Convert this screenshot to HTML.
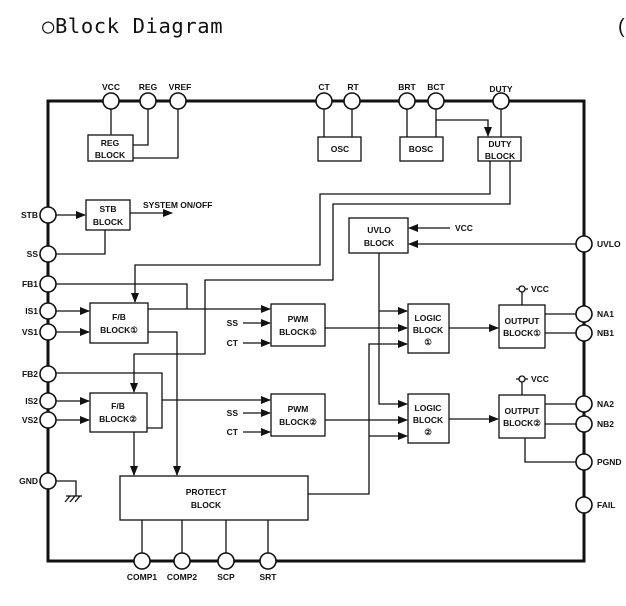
<!DOCTYPE html>
<html><head><meta charset="utf-8"><style>
body{margin:0;background:#fff;width:626px;height:606px;overflow:hidden}
svg{display:block}
text{font-family:"Liberation Sans",sans-serif;font-weight:bold;font-size:8.5px;fill:#111}
</style></head><body>
<svg width="626" height="606" viewBox="0 0 626 606">
<defs><marker id="a" markerWidth="10" markerHeight="8" refX="9" refY="4" orient="auto" markerUnits="userSpaceOnUse"><path d="M0,0L10,4L0,8z" fill="#111"/></marker></defs>
<text x="42" y="33" style="font-size:20.5px;font-weight:normal;font-family:'DejaVu Sans Mono','Liberation Mono',monospace;letter-spacing:0.6px">○Block Diagram</text>
<text x="618" y="33" style="font-size:20px;font-weight:normal">(</text>
<rect x="48" y="101" width="536" height="460" fill="none" stroke="#111" stroke-width="3"/>
<g fill="none" stroke="#111" stroke-width="1.3">
<path d="M111,101V135M148,101V145H133M178,101V158H133"/>
<path d="M324,101V137M352,101V137M407,101V137M436,101V137"/>
<path d="M436,120H488V136" marker-end="url(#a)"/>
<path d="M501,101V137"/>
<path d="M490,161V194H320V265H135V302" marker-end="url(#a)"/>
<path d="M510,161V204H333V280H205V354H134V392" marker-end="url(#a)"/>
<path d="M56,215H85" marker-end="url(#a)"/>
<path d="M130,213H172" marker-end="url(#a)"/>
<path d="M105,230V254H56"/>
<path d="M56,284H187V309"/>
<path d="M56,311H89" marker-end="url(#a)"/>
<path d="M56,332H89" marker-end="url(#a)"/>
<path d="M148,309H270" marker-end="url(#a)"/>
<path d="M148,332H177V475" marker-end="url(#a)"/>
<path d="M243,323H270" marker-end="url(#a)"/>
<path d="M243,343H270" marker-end="url(#a)"/>
<path d="M56,373H162V428H147"/>
<path d="M56,401H89" marker-end="url(#a)"/>
<path d="M56,420H89" marker-end="url(#a)"/>
<path d="M162,400H270" marker-end="url(#a)"/>
<path d="M243,413H270" marker-end="url(#a)"/>
<path d="M243,432H270" marker-end="url(#a)"/>
<path d="M134,432V475" marker-end="url(#a)"/>
<path d="M450,228H409" marker-end="url(#a)"/>
<path d="M576,244H409" marker-end="url(#a)"/>
<path d="M379,253V404H407" marker-end="url(#a)"/>
<path d="M379,311H407" marker-end="url(#a)"/>
<path d="M325,328H407" marker-end="url(#a)"/>
<path d="M325,420H407" marker-end="url(#a)"/>
<path d="M308,494H369V344H407" marker-end="url(#a)"/>
<path d="M369,436H407" marker-end="url(#a)"/>
<path d="M449,328H498" marker-end="url(#a)"/>
<path d="M449,419H498" marker-end="url(#a)"/>
<path d="M545,314H576M545,333H576M545,404H576M545,424H576M525,438V462H576"/>
<path d="M522,289V305M522,379V395M516,289H528M516,379H528"/>
<path d="M142,520V561M182,520V561M226,520V561M268,520V561"/>
<path d="M56,481H76V496M66,496H82M70,496L65,502M75,496L70,502M80,496L75,502"/>
</g>
<g fill="#fff" stroke="#111" stroke-width="1.3">
<circle cx="522" cy="289" r="3"/><circle cx="522" cy="379" r="3"/>
<rect x="88" y="135" width="45" height="26"/>
<rect x="318" y="137" width="43" height="24"/>
<rect x="400" y="137" width="43" height="24"/>
<rect x="478" y="137" width="43" height="24"/>
<rect x="86" y="200" width="44" height="30"/>
<rect x="349" y="218" width="59" height="35"/>
<rect x="90" y="303" width="58" height="40"/>
<rect x="271" y="304" width="54" height="42"/>
<rect x="408" y="304" width="41" height="49"/>
<rect x="499" y="305" width="46" height="43"/>
<rect x="90" y="393" width="57" height="39"/>
<rect x="271" y="394" width="54" height="42"/>
<rect x="408" y="394" width="41" height="49"/>
<rect x="499" y="395" width="46" height="43"/>
<rect x="120" y="476" width="188" height="44"/>
</g>
<g fill="#fff" stroke="#111" stroke-width="1.6">
<circle cx="111" cy="101" r="8"/><circle cx="148" cy="101" r="8"/><circle cx="178" cy="101" r="8"/>
<circle cx="324" cy="101" r="8"/><circle cx="352" cy="101" r="8"/><circle cx="407" cy="101" r="8"/><circle cx="436" cy="101" r="8"/><circle cx="501" cy="101" r="8"/>
<circle cx="48" cy="215" r="8"/><circle cx="48" cy="254" r="8"/><circle cx="48" cy="284" r="8"/><circle cx="48" cy="311" r="8"/><circle cx="48" cy="332" r="8"/>
<circle cx="48" cy="374" r="8"/><circle cx="48" cy="401" r="8"/><circle cx="48" cy="420" r="8"/><circle cx="48" cy="481" r="8"/>
<circle cx="584" cy="244" r="8"/><circle cx="584" cy="314" r="8"/><circle cx="584" cy="333" r="8"/><circle cx="584" cy="404" r="8"/><circle cx="584" cy="424" r="8"/><circle cx="584" cy="462" r="8"/><circle cx="584" cy="505" r="8"/>
<circle cx="142" cy="561" r="8"/><circle cx="182" cy="561" r="8"/><circle cx="226" cy="561" r="8"/><circle cx="268" cy="561" r="8"/>
</g>
<g text-anchor="middle">
<text x="111" y="90">VCC</text><text x="148" y="90">REG</text><text x="180" y="90">VREF</text>
<text x="324" y="90">CT</text><text x="353" y="90">RT</text><text x="407" y="90">BRT</text><text x="436" y="90">BCT</text><text x="501" y="92">DUTY</text>
<text x="142" y="580">COMP1</text><text x="182" y="580">COMP2</text><text x="226" y="580">SCP</text><text x="268" y="580">SRT</text>
<text x="110" y="146">REG</text><text x="110" y="158">BLOCK</text>
<text x="340" y="152">OSC</text><text x="421" y="152">BOSC</text>
<text x="500" y="147">DUTY</text><text x="500" y="159">BLOCK</text>
<text x="108" y="212">STB</text><text x="108" y="225">BLOCK</text>
<text x="379" y="233">UVLO</text><text x="379" y="246">BLOCK</text>
<text x="119" y="320">F/B</text><text x="119" y="333">BLOCK①</text>
<text x="298" y="322">PWM</text><text x="298" y="335">BLOCK①</text>
<text x="428" y="321">LOGIC</text><text x="428" y="333">BLOCK</text><text x="428" y="345">①</text>
<text x="522" y="324">OUTPUT</text><text x="522" y="336">BLOCK①</text>
<text x="118" y="409">F/B</text><text x="118" y="422">BLOCK②</text>
<text x="298" y="412">PWM</text><text x="298" y="425">BLOCK②</text>
<text x="428" y="411">LOGIC</text><text x="428" y="423">BLOCK</text><text x="428" y="435">②</text>
<text x="522" y="414">OUTPUT</text><text x="522" y="426">BLOCK②</text>
<text x="206" y="495">PROTECT</text><text x="206" y="508">BLOCK</text>
</g>
<g text-anchor="end">
<text x="38" y="218">STB</text><text x="38" y="257">SS</text><text x="38" y="287">FB1</text><text x="38" y="314">IS1</text><text x="38" y="335">VS1</text>
<text x="38" y="377">FB2</text><text x="38" y="404">IS2</text><text x="38" y="423">VS2</text><text x="38" y="484">GND</text>
<text x="238" y="326">SS</text><text x="238" y="346">CT</text><text x="238" y="416">SS</text><text x="238" y="435">CT</text>
</g>
<text x="143" y="208">SYSTEM  ON/OFF</text>
<text x="455" y="231">VCC</text>
<text x="531" y="292">VCC</text><text x="531" y="382">VCC</text>
<text x="597" y="247">UVLO</text><text x="597" y="317">NA1</text><text x="597" y="336">NB1</text><text x="597" y="407">NA2</text><text x="597" y="427">NB2</text><text x="597" y="465">PGND</text><text x="597" y="508">FAIL</text>
</svg>
</body></html>
